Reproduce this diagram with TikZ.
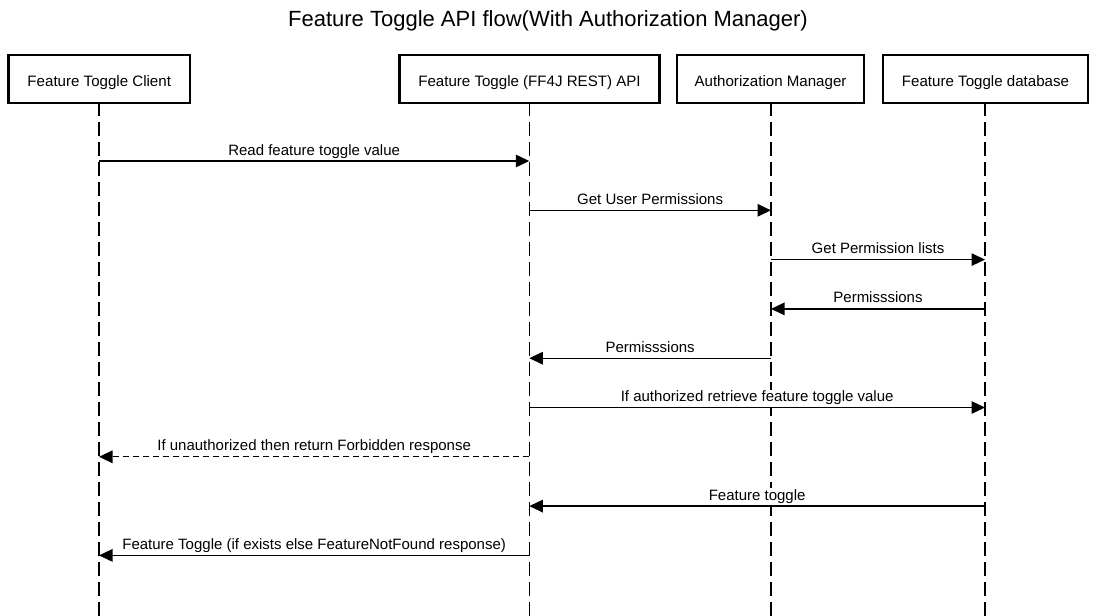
\documentclass[tikz,border=0pt]{standalone}
\usepackage{fontspec}
\setmainfont{Liberation Sans}
\usetikzlibrary{arrows.meta}
\begin{document}
\begin{tikzpicture}[x=1pt,y=-1pt,
  actor/.style={draw=black, line width=2.3pt, fill=white, rectangle, inner sep=0pt,
    minimum height=48pt, text height=14pt, text depth=0pt,
    font=\fontsize{15.1}{18}\selectfont},
  life/.style={draw=black, line width=1.1pt, dash pattern=on 14pt off 6pt, dash phase=1pt},
  msg/.style={draw=black, line width=1.3pt, -{Triangle[length=13.5pt, width=12.5pt]}},
  reply/.style={msg, dash pattern=on 6pt off 4pt},
  lbl/.style={midway, anchor=base, yshift=6pt, inner xsep=1.5pt, inner ysep=1pt,
    text depth=4.2pt, fill=white, font=\fontsize{15}{18}\selectfont}
]
\useasboundingbox (0,0) rectangle (1096,616);
\node[anchor=base, font=\fontsize{22}{26}\selectfont, inner sep=0pt] (title) at (548,26)
  {Feature Toggle API flow(With Authorization Manager)};
% lifelines
\coordinate (clx) at (99,79);
\coordinate (apx) at (529.3,79);
\coordinate (amx) at (771,79);
\coordinate (dbx) at (985,79);
\draw[life] (clx |- 0,103) -- (clx |- 0,616);
\draw[life] (apx |- 0,103) -- (apx |- 0,616);
\draw[life] (amx |- 0,103) -- (amx |- 0,616);
\draw[life] (dbx |- 0,103) -- (dbx |- 0,616);
% actors
\node[actor, minimum width=181.5pt] (client) at (99.25,79) {Feature Toggle Client};
\node[actor, minimum width=260pt] (api) at (529.5,79) {Feature Toggle (FF4J REST) API};
\node[actor, minimum width=187pt] (auth) at (770.5,79) {Authorization Manager};
\node[actor, minimum width=205pt] (db) at (985.5,79) {Feature Toggle database};
% messages
\draw[msg] (clx |- 0,161) -- (apx |- 0,161) node[lbl] {Read feature toggle value};
\draw[msg] (apx |- 0,210.3) -- (amx |- 0,210.3) node[lbl] {Get User Permissions};
\draw[msg] (amx |- 0,259.6) -- (dbx |- 0,259.6) node[lbl] {Get Permission lists};
\draw[msg] (dbx |- 0,308.9) -- (amx |- 0,308.9) node[lbl] {Permisssions};
\draw[msg] (amx |- 0,358.2) -- (apx |- 0,358.2) node[lbl] {Permisssions};
\draw[msg] (apx |- 0,407.5) -- (dbx |- 0,407.5) node[lbl] {If authorized retrieve feature toggle value};
\draw[reply] (apx |- 0,456.8) -- (clx |- 0,456.8) node[lbl] {If unauthorized then return Forbidden response};
\draw[msg] (dbx |- 0,506.1) -- (apx |- 0,506.1) node[lbl] {Feature toggle};
\draw[msg] (apx |- 0,555.4) -- (clx |- 0,555.4) node[lbl] {Feature Toggle (if exists else FeatureNotFound response)};
\end{tikzpicture}
\end{document}
